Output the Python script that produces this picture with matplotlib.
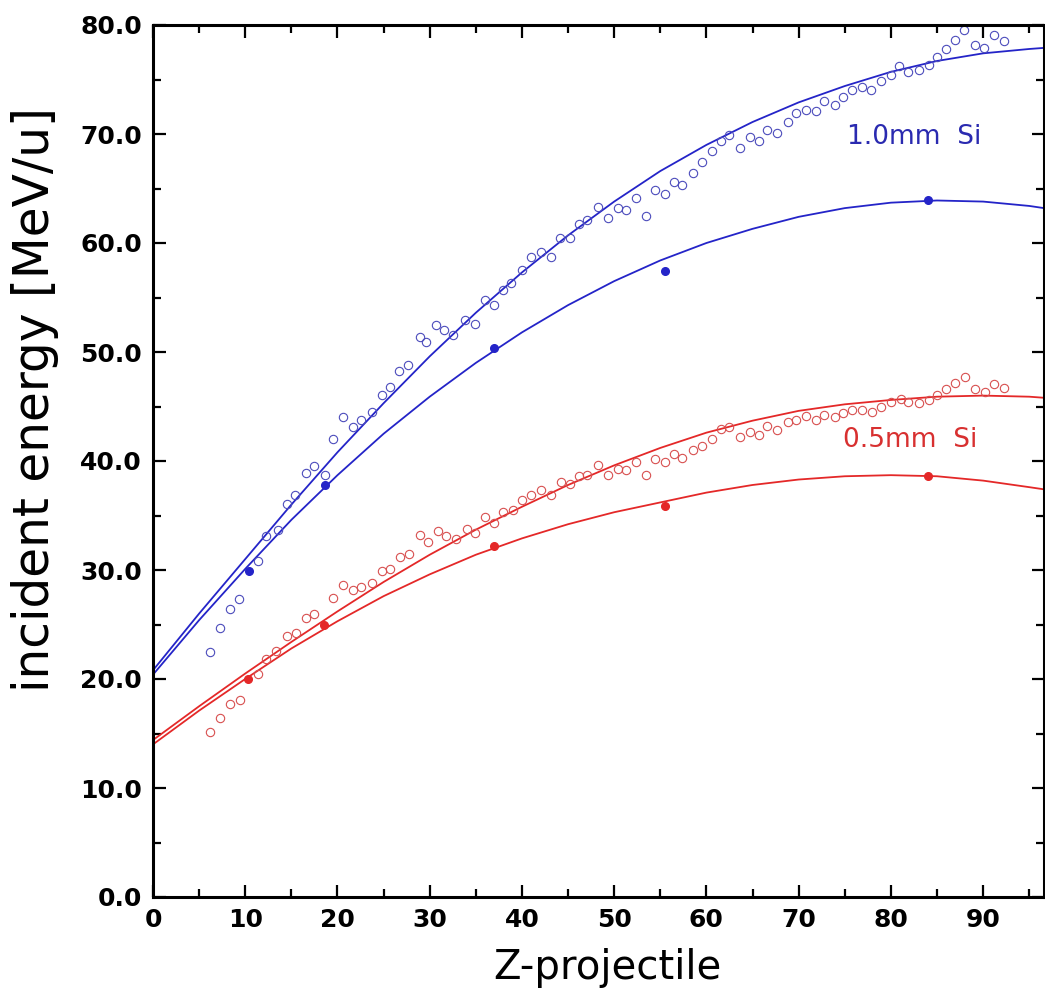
import matplotlib.pyplot as plt
from matplotlib.ticker import MultipleLocator, FormatStrFormatter

# open circles (1.0mm Si, blue)
z_open_b = [6.2, 7.3, 8.3, 9.3, 11.4, 12.3, 13.5, 14.5, 15.4, 16.6, 17.5, 18.6, 19.5, 20.6,
            21.7, 22.6, 23.7, 24.8, 25.7, 26.7, 27.6, 28.9, 29.6, 30.7, 31.6, 32.5, 33.8, 34.9,
            36.0, 37.0, 37.9, 38.8, 40.0, 41.0, 42.1, 43.2, 44.1, 45.2, 46.2, 47.1, 48.2, 49.3,
            50.4, 51.3, 52.4, 53.4, 54.4, 55.5, 56.5, 57.4, 58.5, 59.5, 60.6, 61.6, 62.5, 63.6,
            64.7, 65.7, 66.6, 67.7, 68.8, 69.7, 70.8, 71.9, 72.8, 73.9, 74.8, 75.8, 76.9, 77.8,
            78.9, 80.0, 80.9, 81.9, 83.0, 84.1, 85.0, 86.0, 87.0, 87.9, 89.1, 90.1, 91.2, 92.3]
e_open_b = [22.5, 24.7, 26.4, 27.3, 30.8, 33.1, 33.7, 36.1, 36.9, 38.9, 39.5, 38.7, 42.0, 44.0,
            43.1, 43.8, 44.5, 46.1, 46.8, 48.3, 48.8, 51.4, 50.9, 52.5, 52.0, 51.6, 52.9, 52.6,
            54.8, 54.3, 55.7, 56.3, 57.5, 58.7, 59.2, 58.7, 60.5, 60.5, 61.7, 62.1, 63.3, 62.3,
            63.2, 63.0, 64.1, 62.5, 64.9, 64.5, 65.6, 65.3, 66.4, 67.4, 68.4, 69.4, 69.9, 68.7,
            69.7, 69.4, 70.4, 70.1, 71.1, 71.9, 72.2, 72.1, 73.0, 72.7, 73.4, 74.0, 74.3, 74.0,
            74.9, 75.4, 76.2, 75.7, 75.9, 76.3, 77.1, 77.8, 78.6, 79.5, 78.2, 77.9, 79.1, 78.5]

# open circles (0.5mm Si, red)
z_open_r = [6.2, 7.3, 8.3, 9.4, 11.4, 12.2, 13.3, 14.5, 15.5, 16.6, 17.5, 19.5, 20.6, 21.7,
            22.6, 23.7, 24.8, 25.7, 26.8, 27.8, 28.9, 29.8, 30.9, 31.8, 32.9, 34.0, 34.9, 36.0,
            37.0, 37.9, 39.0, 40.0, 41.0, 42.1, 43.2, 44.2, 45.2, 46.2, 47.1, 48.2, 49.3, 50.4,
            51.3, 52.4, 53.4, 54.4, 55.5, 56.5, 57.4, 58.5, 59.5, 60.6, 61.6, 62.5, 63.6, 64.7,
            65.7, 66.6, 67.7, 68.8, 69.7, 70.8, 71.9, 72.8, 73.9, 74.8, 75.8, 76.9, 77.9, 78.9,
            80.0, 81.1, 81.9, 83.0, 84.1, 85.0, 86.0, 87.0, 88.0, 89.1, 90.2, 91.2, 92.3]
e_open_r = [15.1, 16.4, 17.7, 18.1, 20.5, 21.8, 22.6, 23.9, 24.2, 25.6, 26.0, 27.4, 28.6, 28.2,
            28.4, 28.8, 29.9, 30.1, 31.2, 31.5, 33.2, 32.6, 33.6, 33.1, 32.8, 33.8, 33.4, 34.9,
            34.3, 35.3, 35.5, 36.4, 36.9, 37.3, 36.9, 38.1, 37.9, 38.6, 38.7, 39.6, 38.7, 39.3,
            39.2, 39.9, 38.7, 40.2, 39.9, 40.6, 40.3, 41.0, 41.4, 42.0, 42.9, 43.1, 42.2, 42.7,
            42.4, 43.2, 42.8, 43.6, 43.8, 44.1, 43.8, 44.2, 44.0, 44.4, 44.7, 44.7, 44.5, 45.0,
            45.4, 45.7, 45.4, 45.3, 45.6, 46.1, 46.6, 47.2, 47.7, 46.6, 46.3, 47.1, 46.7]

# filled points
z_full_b = [10.4, 18.6, 37.0, 55.5, 84.0]
e_full_b = [29.9, 37.8, 50.4, 57.4, 63.9]
z_full_r = [10.3, 18.5, 37.0, 55.5, 84.0]
e_full_r = [20.0, 25.0, 32.2, 35.9, 38.6]

# fit curves
z_curve = [0, 5, 10, 15, 20, 25, 30, 35, 40, 45, 50, 55, 60, 65, 70, 75, 80, 85, 90, 95, 96.6]
e_fit_b_open = [20.8, 26.0, 31.0, 36.0, 40.8, 45.3, 49.6, 53.6, 57.3, 60.7, 63.8, 66.6, 69.0,
                71.1, 72.9, 74.4, 75.7, 76.7, 77.4, 77.8, 77.9]
e_fit_b_full = [20.4, 25.4, 30.1, 34.6, 38.7, 42.5, 45.9, 49.0, 51.8, 54.3, 56.5, 58.4, 60.0,
                61.3, 62.4, 63.2, 63.7, 63.9, 63.8, 63.4, 63.2]
e_fit_r_open = [14.4, 17.5, 20.5, 23.4, 26.2, 28.9, 31.4, 33.7, 35.8, 37.8, 39.6, 41.2, 42.6,
                43.7, 44.6, 45.2, 45.6, 45.9, 46.0, 45.9, 45.8]
e_fit_r_full = [14.0, 17.1, 20.0, 22.8, 25.3, 27.6, 29.6, 31.4, 32.9, 34.2, 35.3, 36.2, 37.1,
                37.8, 38.3, 38.6, 38.7, 38.6, 38.2, 37.6, 37.4]

blue = '#2424c8'
red = '#e42828'

fig = plt.figure(figsize=(10.45, 10), dpi=100)
ax = fig.add_axes([153 / 1045, 103 / 1000, 891 / 1045, 872 / 1000])

# fit lines
ax.plot(z_curve, e_fit_b_open, color=blue, lw=1.3)
ax.plot(z_curve, e_fit_b_full, color=blue, lw=1.3)
ax.plot(z_curve, e_fit_r_open, color=red, lw=1.3)
ax.plot(z_curve, e_fit_r_full, color=red, lw=1.3)

# data points
ax.plot(z_open_b, e_open_b, 'o', mfc='none', mec='#4c4cbc', ms=6, mew=0.8)
ax.plot(z_open_r, e_open_r, 'o', mfc='none', mec='#d85050', ms=6, mew=0.8)
ax.plot(z_full_b, e_full_b, 'o', color=blue, ms=5.5)
ax.plot(z_full_r, e_full_r, 'o', color=red, ms=5.5)

ax.text(75.2, 69.7, '1.0mm  Si', color='#2a2ab0', fontsize=19, va='center')
ax.text(74.8, 41.9, '0.5mm  Si', color='#d83030', fontsize=19, va='center')

ax.set_xlim(0, 96.6)
ax.set_ylim(0, 80)
ax.xaxis.set_major_locator(MultipleLocator(10))
ax.xaxis.set_minor_locator(MultipleLocator(5))
ax.yaxis.set_major_locator(MultipleLocator(10))
ax.yaxis.set_minor_locator(MultipleLocator(5))
ax.yaxis.set_major_formatter(FormatStrFormatter('%.1f'))
ax.tick_params(which='both', direction='in', top=True, right=True, width=1.6)
ax.tick_params(which='major', length=9, labelsize=18, pad=8)
ax.tick_params(which='minor', length=6)
for lab in ax.get_xticklabels() + ax.get_yticklabels():
    lab.set_fontweight('bold')
for sp in ax.spines.values():
    sp.set_linewidth(2.2)

ax.set_xlabel('Z-projectile', fontsize=29)
ax.set_ylabel('incident energy [MeV/u]', fontsize=35)
ax.xaxis.set_label_coords(0.51, -0.058)
ax.yaxis.set_label_coords(-0.105, 0.57)

plt.savefig('out.png', dpi=100)
